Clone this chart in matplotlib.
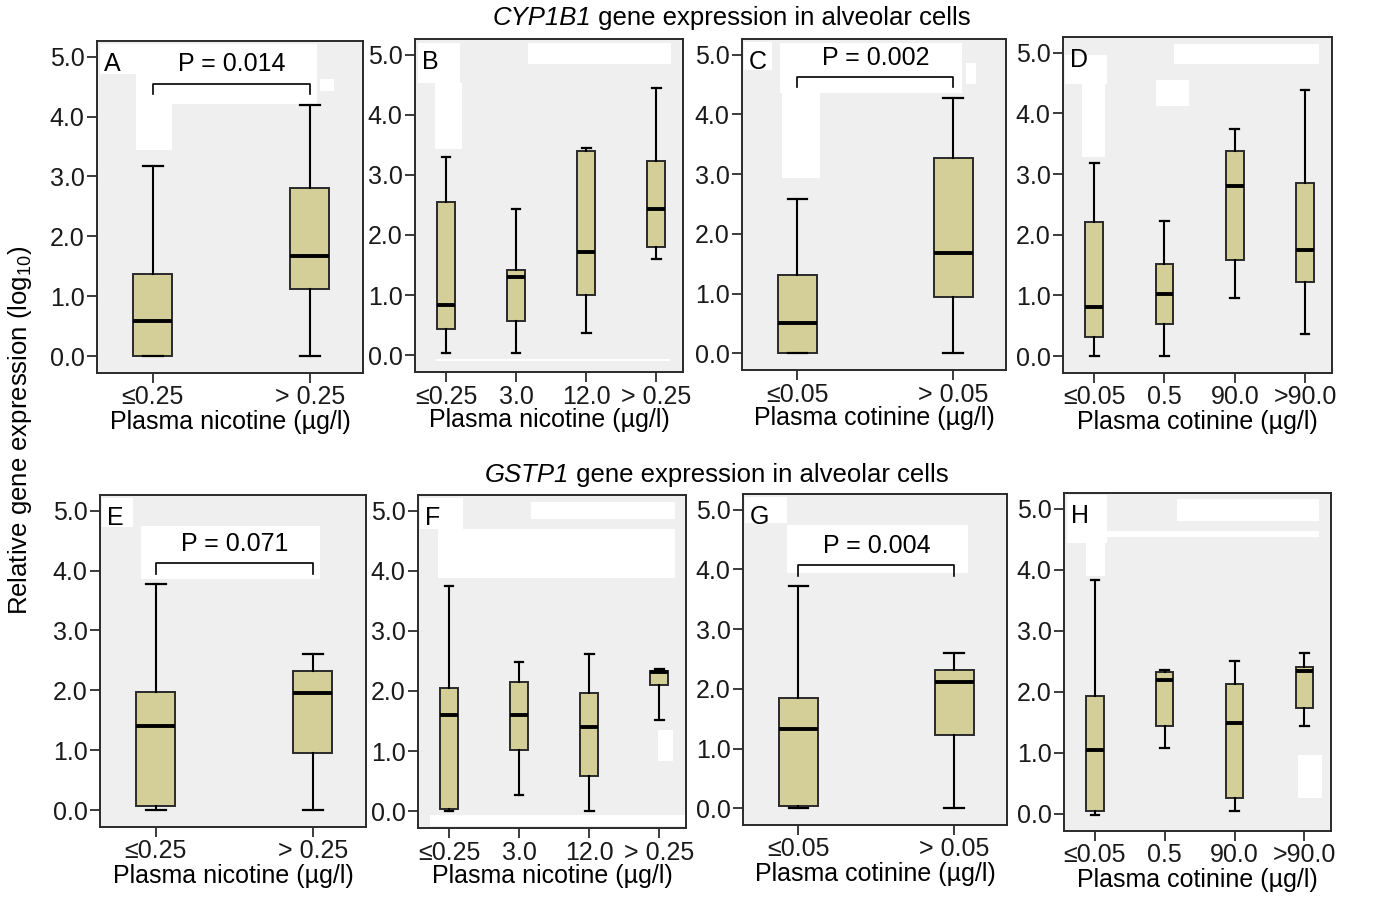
import numpy as np
import matplotlib
matplotlib.use("Agg")
import matplotlib.pyplot as plt
from matplotlib.patches import Rectangle

plt.rcParams['font.family'] = ['Liberation Sans', 'DejaVu Sans']
plt.rcParams['mathtext.fontset'] = 'custom'
plt.rcParams['mathtext.rm'] = 'Liberation Sans'
plt.rcParams['mathtext.it'] = 'Liberation Sans:italic'

# group labels
nic2 = ["≤0.25", "> 0.25"]
nic4 = ["≤0.25", "3.0", "12.0", "> 0.25"]
cot2 = ["≤0.05", "> 0.05"]
cot4 = ["≤0.05", "0.5", "90.0", ">90.0"]

# five number summaries per box: [whisker low, q1, median, q3, whisker high]
A_boxes = [[0.0, 0.01, 0.58, 1.38, 3.17], [0.0, 1.12, 1.67, 2.81, 4.20]]
B_boxes = [[0.03, 0.44, 0.83, 2.54, 3.29], [0.03, 0.57, 1.30, 1.42, 2.44],
           [0.37, 1.00, 1.71, 3.39, 3.44], [1.60, 1.80, 2.44, 3.23, 4.44]]
C_boxes = [[0.0, 0.0, 0.51, 1.31, 2.59], [0.0, 0.95, 1.68, 3.27, 4.28]]
D_boxes = [[0.0, 0.32, 0.80, 2.21, 3.19], [0.0, 0.52, 1.02, 1.51, 2.23],
           [0.96, 1.58, 2.80, 3.38, 3.75], [0.36, 1.22, 1.74, 2.86, 4.38]]
E_boxes = [[0.0, 0.07, 1.40, 1.97, 3.78], [0.0, 0.96, 1.96, 2.32, 2.60]]
F_boxes = [[0.01, 0.03, 1.60, 2.05, 3.75], [0.27, 1.02, 1.60, 2.15, 2.49],
           [0.01, 0.59, 1.40, 1.97, 2.61], [1.52, 2.10, 2.31, 2.34, 2.37]]
G_boxes = [[0.0, 0.04, 1.32, 1.84, 3.72], [0.0, 1.22, 2.11, 2.32, 2.60]]
H_boxes = [[-0.01, 0.04, 1.04, 1.94, 3.83], [1.08, 1.44, 2.19, 2.33, 2.36],
           [0.04, 0.26, 1.49, 2.13, 2.50], [1.44, 1.73, 2.34, 2.40, 2.63]]

p_values = {"A": "P = 0.014", "C": "P = 0.002", "E": "P = 0.071", "G": "P = 0.004"}

xlab_nic = "Plasma nicotine (µg/l)"
xlab_cot = "Plasma cotinine (µg/l)"

W, H = 1373, 899
fig = plt.figure(figsize=(W / 100, H / 100), dpi=100)

BG = "#efefef"
FILL = "#d4cf99"

# axes boxes in pixels: left, right, top, bottom
frames = {
    "A": (97, 363, 41, 373), "B": (415, 683, 39, 372),
    "C": (742, 1006, 39, 370), "D": (1063, 1332, 37, 373),
    "E": (100, 366, 495, 827), "F": (418, 686, 495, 828),
    "G": (743, 1007, 494, 825), "H": (1064, 1331, 493, 831),
}

# white blotches visible in the source panels (axes fraction x, y, w, h)
blotches = {
    "A": [(0.01, 0.90, 0.14, 0.09), (0.148, 0.81, 0.68, 0.18), (0.148, 0.673, 0.135, 0.23),
          (0.84, 0.85, 0.05, 0.035)],
    "B": [(0.012, 0.868, 0.156, 0.12), (0.075, 0.669, 0.099, 0.2), (0.423, 0.926, 0.532, 0.062),
          (0.08, 0.034, 0.87, 0.005)],
    "C": [(0.006, 0.905, 0.107, 0.087), (0.145, 0.836, 0.687, 0.151), (0.151, 0.579, 0.145, 0.257),
          (0.847, 0.864, 0.041, 0.063)],
    "D": [(0.009, 0.861, 0.155, 0.084), (0.071, 0.643, 0.086, 0.218), (0.412, 0.919, 0.539, 0.061),
          (0.347, 0.794, 0.12, 0.079)],
    "E": [(0.006, 0.905, 0.118, 0.085), (0.155, 0.747, 0.671, 0.159)],
    "F": [(0.006, 0.897, 0.162, 0.093), (0.075, 0.752, 0.884, 0.145), (0.423, 0.927, 0.536, 0.053),
          (0.044, 0.005, 0.953, 0.035), (0.894, 0.2, 0.059, 0.093)],
    "G": [(0.006, 0.911, 0.159, 0.081), (0.165, 0.76, 0.689, 0.146)],
    "H": [(0.01, 0.852, 0.15, 0.141), (0.4225, 0.917, 0.5315, 0.066), (0.0725, 0.870, 0.8815, 0.018),
          (0.0825, 0.753, 0.0715, 0.102), (0.875, 0.099, 0.091, 0.125)],
}

panels = [
    ("A", A_boxes, nic2, xlab_nic), ("B", B_boxes, nic4, xlab_nic),
    ("C", C_boxes, cot2, xlab_cot), ("D", D_boxes, cot4, xlab_cot),
    ("E", E_boxes, nic2, xlab_nic), ("F", F_boxes, nic4, xlab_nic),
    ("G", G_boxes, cot2, xlab_cot), ("H", H_boxes, cot4, xlab_cot),
]

for name, boxes, labels, xlab in panels:
    l, r, t, b = frames[name]
    ax = fig.add_axes([l / W, 1 - b / H, (r - l) / W, (b - t) / H])
    ax.set_facecolor(BG)
    for bx in blotches[name]:
        ax.add_patch(Rectangle(bx[:2], bx[2], bx[3], transform=ax.transAxes,
                               facecolor="white", edgecolor="none", zorder=0.5))

    stats = [dict(whislo=s[0], q1=s[1], med=s[2], q3=s[3], whishi=s[4], fliers=[])
             for s in boxes]
    pos = np.arange(1, len(boxes) + 1)
    ax.bxp(stats, positions=pos, widths=0.25, patch_artist=True, showfliers=False,
           boxprops=dict(facecolor=FILL, edgecolor="#2a2a2a", linewidth=1.4),
           medianprops=dict(color="black", linewidth=2.8),
           whiskerprops=dict(color="black", linewidth=1.5),
           capprops=dict(color="black", linewidth=1.6), zorder=3)

    if len(boxes) == 2:
        ax.set_xlim(0.644, 2.339)
    else:
        ax.set_xlim(0.556, 4.383)
    ax.set_ylim(-0.28, 5.26)
    ax.set_yticks(np.arange(0, 6))
    ax.set_yticklabels([f"{v:.1f}" for v in range(6)])
    ax.set_xticks(pos)
    ax.set_xticklabels(labels)
    ax.tick_params(direction="out", length=7, width=1.2, pad=2, labelsize=18, colors="#1a1a1a")
    for sp in ax.spines.values():
        sp.set_color("#2a2a2a")
        sp.set_linewidth(1.4)
    ax.set_xlabel(xlab, fontsize=18, labelpad=0)

    ax.text(0.025, 0.968, name, transform=ax.transAxes, ha="left", va="top", fontsize=18)

    if name in p_values:
        top = max(s[4] for s in boxes) + 0.35
        ax.plot([1, 1, 2, 2], [top - 0.18, top, top, top - 0.18], color="black", lw=1.2, zorder=4)
        ax.text(1.5, top + 0.32, p_values[name], ha="center", va="center", fontsize=18, zorder=4)

# row titles: italic gene name followed by plain text
fig.text(591 / W, 1 - 18 / H, "CYP1B1", style="italic", ha="right", va="center", fontsize=18.5)
fig.text(591 / W, 1 - 18 / H, " gene expression in alveolar cells", ha="left", va="center",
         fontsize=18.5)
fig.text(569 / W, 1 - 475 / H, "GSTP1", style="italic", ha="right", va="center", fontsize=18.5)
fig.text(569 / W, 1 - 475 / H, " gene expression in alveolar cells", ha="left", va="center",
         fontsize=18.5)
fig.text(20 / W, 1 - 430 / H, r"Relative gene expression (log$_{10}$)",
         rotation=90, ha="center", va="center", fontsize=18.5)

fig.savefig("out.png", dpi=100)
